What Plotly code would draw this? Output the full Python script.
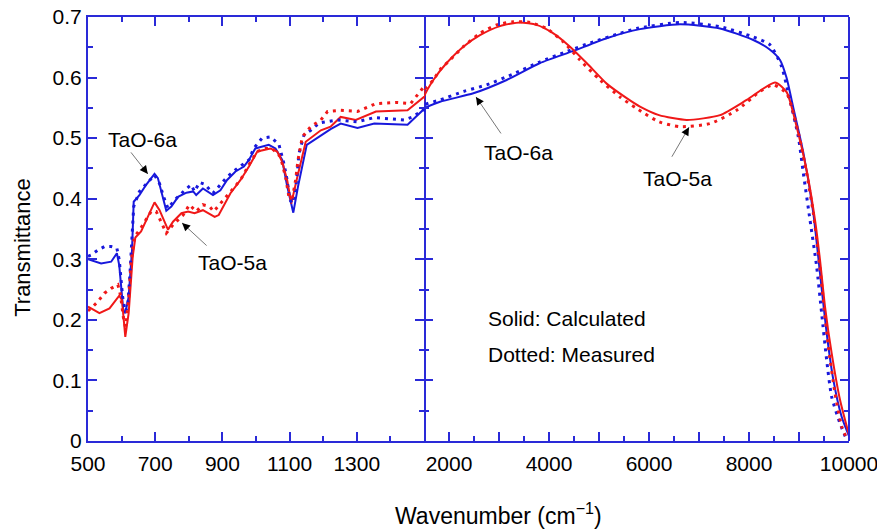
import plotly.graph_objects as go

# ---------------- data ----------------
# TaO-6a calculated (blue solid)
blue_calc_x = [500, 539, 569, 586, 593, 605, 611, 621, 631, 636, 653, 673, 698, 708, 733, 748, 768, 793, 813, 822,
               842, 872, 894, 914, 939, 964, 979, 998, 1038, 1058, 1078, 1093, 1111, 1125, 1151, 1193, 1222, 1252,
               1302, 1352, 1451, 1500,
               1820, 2487, 3153, 3820, 4487, 5153, 5820, 6620, 7420, 8087, 8420, 8620, 8750, 8887, 9087, 9287,
               9420, 9553, 9687, 9853, 10000]
blue_calc_y = [0.300, 0.293, 0.296, 0.310, 0.290, 0.216, 0.211, 0.238, 0.315, 0.395, 0.406, 0.423, 0.441, 0.434,
               0.380, 0.387, 0.403, 0.410, 0.412, 0.406, 0.417, 0.406, 0.414, 0.431, 0.445, 0.453, 0.464, 0.483,
               0.489, 0.483, 0.464, 0.420, 0.377, 0.420, 0.489, 0.505, 0.515, 0.524, 0.517, 0.524, 0.522, 0.548,
               0.560, 0.574, 0.596, 0.624, 0.644, 0.665, 0.680, 0.688, 0.681, 0.662, 0.646, 0.629, 0.600, 0.550,
               0.476, 0.376, 0.277, 0.178, 0.101, 0.040, 0.008]

# TaO-5a calculated (red solid)
red_calc_x = [500, 534, 564, 593, 601, 611, 621, 633, 641, 658, 678, 698, 713, 738, 753, 778, 798, 817, 842, 877,
              889, 924, 954, 979, 1004, 1043, 1063, 1078, 1093, 1105, 1123, 1148, 1193, 1222, 1252, 1297, 1357,
              1451, 1500,
              1687, 1953, 2287, 2620, 3020, 3420, 3753, 4087, 4420, 4753, 5153, 5553, 5820, 6200, 6753, 7420,
              7953, 8520, 8753, 8953, 9153, 9320, 9420, 9520, 9653, 9820, 10000]
red_calc_y = [0.222, 0.211, 0.219, 0.240, 0.233, 0.172, 0.211, 0.304, 0.336, 0.346, 0.370, 0.394, 0.381, 0.349,
              0.362, 0.376, 0.379, 0.376, 0.381, 0.370, 0.373, 0.409, 0.431, 0.453, 0.478, 0.483, 0.478, 0.461,
              0.430, 0.392, 0.436, 0.494, 0.513, 0.519, 0.535, 0.530, 0.544, 0.546, 0.568,
              0.596, 0.624, 0.651, 0.670, 0.685, 0.691, 0.687, 0.673, 0.651, 0.624, 0.590, 0.566, 0.552, 0.538,
              0.530, 0.538, 0.563, 0.592, 0.576, 0.519, 0.447, 0.365, 0.299, 0.222, 0.145, 0.068, 0.010]

# TaO-6a measured (blue dotted)
blue_meas_x = [500, 509, 529, 549, 569, 586, 593, 603, 611, 618, 625, 631, 636, 653, 678, 698, 713, 725, 738, 758,
               788, 807, 817, 832, 847, 872, 914, 944, 979, 993, 1018, 1043, 1068, 1083, 1091, 1101, 1108, 1118,
               1128, 1143, 1163, 1188, 1242, 1302, 1352, 1441, 1466, 1496,
               1520, 1820, 2287, 2753, 3287, 3820, 4353, 4887, 5420, 5753, 6620, 7420, 8087, 8420, 8653, 8787,
               8987, 9087, 9220, 9353, 9453, 9553, 9653, 9820, 9953]
blue_meas_y = [0.305, 0.307, 0.315, 0.321, 0.321, 0.318, 0.299, 0.238, 0.214, 0.222, 0.277, 0.348, 0.387, 0.412,
               0.428, 0.439, 0.425, 0.403, 0.384, 0.398, 0.414, 0.423, 0.412, 0.427, 0.424, 0.409, 0.436, 0.450,
               0.464, 0.483, 0.500, 0.502, 0.490, 0.458, 0.436, 0.398, 0.392, 0.414, 0.475, 0.505, 0.513, 0.525,
               0.530, 0.527, 0.534, 0.530, 0.535, 0.546,
               0.555, 0.563, 0.577, 0.588, 0.606, 0.626, 0.643, 0.659, 0.673, 0.681, 0.691, 0.684, 0.667, 0.654,
               0.618, 0.574, 0.502, 0.442, 0.365, 0.288, 0.211, 0.134, 0.073, 0.029, 0.002]

# TaO-5a measured (red dotted)
red_meas_x = [500, 509, 529, 549, 569, 589, 597, 605, 611, 621, 628, 638, 653, 668, 688, 703, 718, 733, 753, 783,
              802, 822, 842, 862, 874, 924, 954, 984, 1004, 1028, 1048, 1073, 1088, 1098, 1108, 1118, 1125, 1138,
              1163, 1193, 1213, 1252, 1302, 1357, 1416, 1460, 1483, 1500,
              1520, 1687, 1820, 2020, 2287, 2620, 2953, 3287, 3620, 3953, 4287, 4620, 5020, 5420, 5753, 6200,
              6620, 7220, 7753, 8220, 8487, 8753, 8853, 9020, 9153, 9287, 9387, 9487, 9587, 9720, 9853, 9967]
red_meas_y = [0.215, 0.219, 0.230, 0.244, 0.252, 0.258, 0.240, 0.205, 0.189, 0.233, 0.293, 0.337, 0.348, 0.362,
              0.379, 0.379, 0.362, 0.343, 0.357, 0.373, 0.390, 0.379, 0.390, 0.387, 0.379, 0.412, 0.431, 0.461,
              0.478, 0.483, 0.483, 0.469, 0.436, 0.403, 0.400, 0.431, 0.464, 0.502, 0.519, 0.530, 0.544, 0.546,
              0.544, 0.557, 0.559, 0.557, 0.574, 0.585,
              0.582, 0.596, 0.613, 0.629, 0.651, 0.673, 0.687, 0.692, 0.691, 0.681, 0.659, 0.629, 0.596, 0.568,
              0.549, 0.527, 0.519, 0.524, 0.546, 0.577, 0.588, 0.574, 0.552, 0.497, 0.442, 0.376, 0.310, 0.233,
              0.156, 0.079, 0.024, 0.002]

left_tick_vals = [500, 700, 900, 1100, 1300]
right_tick_vals = [2000, 3000, 4000, 5000, 6000, 7000, 8000, 9000, 10000]
right_tick_text = ["2000", "", "4000", "", "6000", "", "8000", "", "10000"]
y_tick_vals = [0, 0.1, 0.2, 0.3, 0.4, 0.5, 0.6, 0.7]

# ---------------- styling ----------------
RED = "#f01818"
BLUE = "#1818dc"
AXIS = "#2a2ad8"
FONT = "Arial, Liberation Sans, sans-serif"

fig = go.Figure()

series = [
    (blue_calc_x, blue_calc_y, BLUE, "solid", 2),
    (red_calc_x, red_calc_y, RED, "solid", 2),
    (blue_meas_x, blue_meas_y, BLUE, "3px,5px", 3),
    (red_meas_x, red_meas_y, RED, "3px,5px", 3),
]
for xa, ya, shape in (("x", "y", "linear"), ("x2", "y2", "spline")):
    for sx, sy, col, dash, w in series:
        fig.add_trace(go.Scatter(x=sx, y=sy, mode="lines", xaxis=xa, yaxis=ya,
                                 line=dict(color=col, width=w, dash=dash, shape=shape,
                                           smoothing=0.6 if shape == "spline" else None),
                                 showlegend=False, hoverinfo="skip"))

split = 336 / 761
common_axis = dict(linecolor=AXIS, linewidth=2, mirror="ticks", ticks="inside",
                   tickcolor=AXIS, tickwidth=2, ticklen=9, showgrid=False, zeroline=False,
                   automargin=False, ticklabeloverflow="allow",
                   tickfont=dict(family=FONT, size=21, color="black"))
minor_common = dict(ticks="inside", ticklen=5, tickcolor=AXIS, tickwidth=2, tickmode="linear")

fig.update_layout(
    width=877, height=530,
    margin=dict(l=88, r=28, t=17, b=89),
    plot_bgcolor="white", paper_bgcolor="white",
    showlegend=False,
    font=dict(family=FONT, size=21, color="black"),
    xaxis=dict(domain=[0, split], range=[500, 1500], tickmode="array", tickvals=left_tick_vals,
               minor=dict(tick0=500, dtick=100, **minor_common), showline=True,
               ticklabelstandoff=3, anchor="y", **common_axis),
    xaxis2=dict(domain=[split, 1], range=[1500, 10000], tickmode="array", tickvals=right_tick_vals,
                ticktext=right_tick_text, showline=True, ticklabelstandoff=3,
                minor=dict(tick0=1500, dtick=500, **minor_common),
                anchor="y2", **common_axis),
    yaxis=dict(range=[0, 0.7], tickmode="array", tickvals=y_tick_vals, showline=True,
               minor=dict(tick0=0, dtick=0.05, **minor_common),
               anchor="x", **common_axis),
    yaxis2=dict(range=[0, 0.7], tickmode="array", tickvals=y_tick_vals, showticklabels=False,
                showline=False,
                minor=dict(tick0=0, dtick=0.05, **minor_common),
                anchor="x2", **common_axis),
    shapes=[dict(type="line", xref="paper", yref="paper", x0=1, x1=1, y0=0, y1=1,
                 line=dict(color=AXIS, width=2))],
)

annotations = []
# axis titles
annotations.append(dict(text="Wavenumber (cm<sup>\u22121</sup>)", xref="paper", yref="paper",
                        x=0.540, y=-0.172, showarrow=False, font=dict(size=23, family=FONT),
                        xanchor="center", yanchor="middle"))
annotations.append(dict(text="Transmittance", xref="paper", yref="paper", x=-0.087, y=0.4575,
                        showarrow=False, textangle=-90, font=dict(size=22, family=FONT),
                        xanchor="center", yanchor="middle"))

# labels: (text, xref, text_x, text_y, tip_x, tip_y, tail_dx, tail_dy)
labels = [
    ("TaO-6a", "x", 662, 0.497, 678, 0.441, -18, -23),
    ("TaO-5a", "x", 931, 0.294, 780, 0.360, 26, 24),
    ("TaO-6a", "x2", 3380, 0.477, 2540, 0.568, 26, 38),
    ("TaO-5a", "x2", 6560, 0.434, 6800, 0.518, -18, 31),
]
for text, xr, tx, ty, px, py, dx, dy in labels:
    yr = "y" if xr == "x" else "y2"
    annotations.append(dict(text=text, xref=xr, yref=yr, x=tx, y=ty, showarrow=False,
                            font=dict(size=21, family=FONT, color="black")))
    annotations.append(dict(text="", xref=xr, yref=yr, x=px, y=py, ax=dx, ay=dy, showarrow=True,
                            arrowhead=0, arrowwidth=1, arrowcolor="#777777", standoff=0))
    L = (dx * dx + dy * dy) ** 0.5
    annotations.append(dict(text="", xref=xr, yref=yr, x=px, y=py, ax=dx * 9 / L, ay=dy * 9 / L,
                            showarrow=True, arrowhead=2, arrowsize=1.6, arrowwidth=1,
                            arrowcolor="black", standoff=0))

annotations.append(dict(text="Solid: Calculated", xref="x2", yref="y2", x=2740, y=0.203,
                        xanchor="left", showarrow=False, font=dict(size=21, family=FONT)))
annotations.append(dict(text="Dotted: Measured", xref="x2", yref="y2", x=2740, y=0.1436,
                        xanchor="left", showarrow=False, font=dict(size=21, family=FONT)))

fig.update_layout(annotations=annotations)

fig.write_html("out.html")
